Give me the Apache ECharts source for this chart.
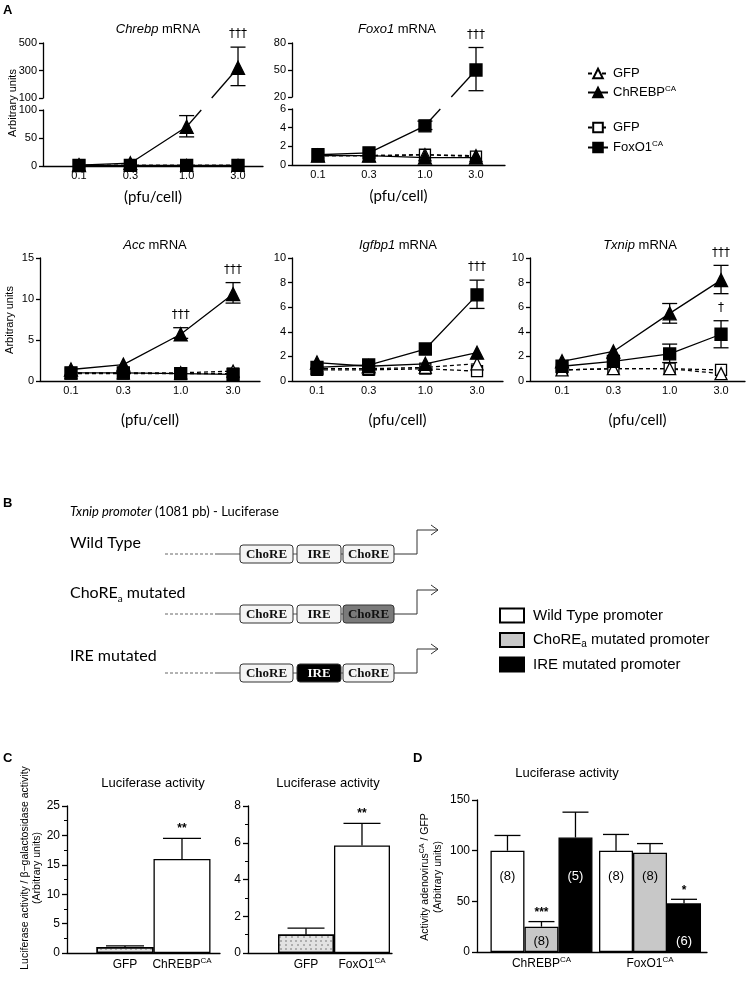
<!DOCTYPE html>
<html><head><meta charset="utf-8">
<script src="https://cdn.jsdelivr.net/npm/echarts@6/dist/echarts.min.js"></script>
<style>html,body{margin:0;padding:0;background:#fff}#c{width:747px;height:984px}</style>
</head><body><div id="c"></div><script>
// ---------------- Panel A data ----------------
const doses = [0.1, 0.3, 1.0, 3.0];
const doseLabels = ['0.1', '0.3', '1.0', '3.0'];

const chrebpGfpTri = [1.0, 1.0, 1.0, 1.0];
const chrebpChrebp = [1.5, 5.0, 70, 320];
const chrebpChrebpLo = [null, null, 52, 190];
const chrebpChrebpHi = [null, null, 90, 470];
const chrebpChrebpSig = ['', '', '', '†††'];
const chrebpGfpSq = [1.0, 1.0, 1.0, 1.0];
const chrebpFoxo1 = [1.0, 1.0, 1.0, 1.0];
const chrebpTicksUpper = [100, 300, 500];
const chrebpTicksLower = [0, 50, 100];

const foxo1GfpTri = [1.0, 1.0, 1.1, 1.0];
const foxo1Chrebp = [1.0, 1.0, 0.8, 0.8];
const foxo1GfpSq = [1.0, 1.0, 1.1, 0.9];
const foxo1Foxo1 = [1.1, 1.3, 4.2, 50];
const foxo1Foxo1Lo = [null, null, 3.8, 27];
const foxo1Foxo1Hi = [null, null, 4.7, 75];
const foxo1Foxo1Sig = ['', '', '', '†††'];
const foxo1TicksUpper = [20, 50, 80];
const foxo1TicksLower = [0, 2, 4, 6];

const accGfpTri = [1.0, 1.0, 1.0, 1.2];
const accChrebp = [1.4, 2.0, 5.7, 10.6];
const accChrebpLo = [null, null, 5.2, 9.5];
const accChrebpHi = [null, null, 6.5, 12.0];
const accChrebpSig = ['', '', '†††', '†††'];
const accGfpSq = [0.9, 0.9, 0.9, 0.9];
const accFoxo1 = [1.0, 1.0, 0.9, 0.8];
const accTicks = [0, 5, 10, 15];

const igfbp1GfpTri = [1.0, 1.0, 1.1, 1.4];
const igfbp1Chrebp = [1.5, 1.2, 1.4, 2.3];
const igfbp1GfpSq = [0.9, 0.9, 1.0, 0.8];
const igfbp1Foxo1 = [1.1, 1.3, 2.6, 7.0];
const igfbp1Foxo1Lo = [null, null, null, 5.9];
const igfbp1Foxo1Hi = [null, null, null, 8.2];
const igfbp1Foxo1Sig = ['', '', '', '†††'];
const igfbp1Ticks = [0, 2, 4, 6, 8, 10];

const txnipGfpTri = [0.9, 1.0, 1.0, 0.6];
const txnipChrebp = [1.6, 2.4, 5.5, 8.2];
const txnipChrebpLo = [null, null, 4.7, 7.1];
const txnipChrebpHi = [null, null, 6.3, 9.4];
const txnipChrebpSig = ['', '', '', '†††'];
const txnipGfpSq = [0.9, 1.0, 1.0, 0.9];
const txnipFoxo1 = [1.2, 1.6, 2.2, 3.8];
const txnipFoxo1Lo = [null, null, 1.5, 2.7];
const txnipFoxo1Hi = [null, null, 3.0, 4.9];
const txnipFoxo1Sig = ['', '', '', '†'];
const txnipTicks = [0, 2, 4, 6, 8, 10];

// ---------------- Panel C data ----------------
const cChrebpGroups = ['GFP', 'ChREBP'];
const cChrebpVals = [1.0, 16.0];
const cChrebpErr = [1.2, 19.5];
const cChrebpSig = ['', '**'];
const cChrebpTicks = [0, 5, 10, 15, 20, 25];
const cFoxo1Groups = ['GFP', 'FoxO1'];
const cFoxo1Vals = [1.0, 5.85];
const cFoxo1Err = [1.35, 7.05];
const cFoxo1Sig = ['', '**'];
const cFoxo1Ticks = [0, 2, 4, 6, 8];

// ---------------- Panel D data ----------------
const dGroups = ['ChREBP', 'FoxO1'];
const dWildType = [100, 100];
const dWildTypeErr = [115, 116];
const dWildTypeN = ['(8)', '(8)'];
const dChoreA = [25, 98];
const dChoreAErr = [30, 107];
const dChoreAN = ['(8)', '(8)'];
const dChoreASig = ['***', ''];
const dIre = [113, 48];
const dIreErr = [138, 52];
const dIreN = ['(5)', '(6)'];
const dIreSig = ['', '*'];
const dTicks = [0, 50, 100, 150];

// ---------------- build ----------------
const BLACK = '#000';
const SANS = '"Liberation Sans", Arial, sans-serif';
const CAL = 'Lato, "Open Sans", sans-serif';
const SERIF = '"Liberation Serif", serif';
const grids = [], xAxes = [], yAxes = [], series = [], graphics = [];

function addGrid(left, top, width, height) {
  grids.push({left, top, width, height, containLabel: false, outerBoundsMode: 'none', show: false});
  return grids.length - 1;
}
function nearestIdx(arr, v) {
  let b = 0; arr.forEach((a, i) => { if (Math.abs(a - v) < Math.abs(arr[b] - v)) b = i; }); return b;
}
const axLine = {show: true, onZero: false, lineStyle: {color: BLACK, width: 1.3}};

const STY = {
  GFPt: {symbol: 'triangle', size: 12, fill: '#fff', dashed: true, z: 3},
  GFPs: {symbol: 'rect', size: 11, fill: '#fff', dashed: true, z: 3},
  ChREBP: {symbol: 'triangle', size: 13, fill: '#000', dashed: false, z: 4},
  FoxO1: {symbol: 'rect', size: 12, fill: '#000', dashed: false, z: 4}
};
function lineSeries(name, xi, yi, vals, keep) {
  const st = STY[name];
  const data = [];
  doses.forEach((d, i) => { if (!keep || keep(vals[i])) data.push([d, vals[i]]); });
  return {
    type: 'line', name, xAxisIndex: xi, yAxisIndex: yi, data,
    symbol: st.symbol, symbolSize: st.size, showAllSymbol: true,
    itemStyle: {color: st.fill, borderColor: BLACK, borderWidth: 1.3},
    lineStyle: {color: BLACK, width: 1.3, type: st.dashed ? [4, 3] : 'solid'},
    clip: true, z: st.z, silent: true, emphasis: {disabled: true}
  };
}
function errSeries(xi, yi, lo, hi, sig, cap) {
  return {
    type: 'custom', xAxisIndex: xi, yAxisIndex: yi, z: 2, silent: true,
    data: doses.map((d, i) => [d, lo[i], hi[i], i]).filter(r => r[1] != null),
    renderItem: (params, api) => {
      const cs = params.coordSys;
      const x = api.value(0), idx = api.value(3);
      const pl = api.coord([x, api.value(1)]), ph = api.coord([x, api.value(2)]);
      const inside = y => y >= cs.y - 0.5 && y <= cs.y + cs.height + 0.5;
      if (!inside(pl[1]) || !inside(ph[1])) return null;
      const s = {stroke: BLACK, lineWidth: 1.3};
      const ch = [
        {type: 'line', shape: {x1: pl[0], y1: pl[1], x2: ph[0], y2: ph[1]}, style: s},
        {type: 'line', shape: {x1: pl[0] - cap / 2, y1: pl[1], x2: pl[0] + cap / 2, y2: pl[1]}, style: s},
        {type: 'line', shape: {x1: ph[0] - cap / 2, y1: ph[1], x2: ph[0] + cap / 2, y2: ph[1]}, style: s}
      ];
      if (sig[idx]) ch.push({type: 'text', style: {text: sig[idx], x: ph[0], y: ph[1] - 13, align: 'center', verticalAlign: 'middle', textAlign: 'center', textVerticalAlign: 'middle', fontSize: 12, fontFamily: '"DejaVu Sans", sans-serif', fill: BLACK}});
      return {type: 'group', children: ch};
    }
  };
}

const A = [
  {title: 'Chrebp', cx: 158, ty: 29, left: 43, width: 220, xmin: 0.0463, xmax: 5.12, nameGap: 24,
   parts: [{top: 43, height: 55, min: 100, max: 500, ticks: chrebpTicksUpper, only: 'ChREBP'},
           {top: 110, height: 56, min: 0, max: 100, ticks: chrebpTicksLower}],
   vals: {GFPs: chrebpGfpSq, GFPt: chrebpGfpTri, ChREBP: chrebpChrebp, FoxO1: chrebpFoxo1},
   errs: [[chrebpChrebpLo, chrebpChrebpHi, chrebpChrebpSig]]},
  {title: 'Foxo1', cx: 397, ty: 29, left: 292, width: 213, xmin: 0.0572, xmax: 5.6, nameGap: 24,
   parts: [{top: 43, height: 54, min: 20, max: 80, ticks: foxo1TicksUpper, only: 'FoxO1'},
           {top: 109, height: 56, min: 0, max: 6, ticks: foxo1TicksLower}],
   vals: {GFPs: foxo1GfpSq, GFPt: foxo1GfpTri, ChREBP: foxo1Chrebp, FoxO1: foxo1Foxo1},
   errs: [[foxo1Foxo1Lo, foxo1Foxo1Hi, foxo1Foxo1Sig]]},
  {title: 'Acc', cx: 155, ty: 245, left: 40, width: 220, xmin: 0.0522, xmax: 5.28, nameGap: 32,
   parts: [{top: 258, height: 123, min: 0, max: 15, ticks: accTicks}],
   vals: {GFPs: accGfpSq, GFPt: accGfpTri, ChREBP: accChrebp, FoxO1: accFoxo1},
   errs: [[accChrebpLo, accChrebpHi, accChrebpSig]]},
  {title: 'Igfbp1', cx: 398, ty: 245, left: 292, width: 211, xmin: 0.0588, xmax: 5.21, nameGap: 32,
   parts: [{top: 258, height: 123, min: 0, max: 10, ticks: igfbp1Ticks}],
   vals: {GFPs: igfbp1GfpSq, GFPt: igfbp1GfpTri, ChREBP: igfbp1Chrebp, FoxO1: igfbp1Foxo1},
   errs: [[igfbp1Foxo1Lo, igfbp1Foxo1Hi, igfbp1Foxo1Sig]]},
  {title: 'Txnip', cx: 640, ty: 245, left: 530, width: 215, xmin: 0.0504, xmax: 5.01, nameGap: 32,
   parts: [{top: 258, height: 123, min: 0, max: 10, ticks: txnipTicks}],
   vals: {GFPs: txnipGfpSq, GFPt: txnipGfpTri, ChREBP: txnipChrebp, FoxO1: txnipFoxo1},
   errs: [[txnipChrebpLo, txnipChrebpHi, txnipChrebpSig], [txnipFoxo1Lo, txnipFoxo1Hi, txnipFoxo1Sig]]}
];

A.forEach(c => {
  const broken = c.parts.length > 1;
  c.parts.forEach((p, pi) => {
    const last = pi === c.parts.length - 1;
    const gi = addGrid(c.left, p.top, c.width, p.height);
    p.gi = gi;
    xAxes.push({
      gridIndex: gi, type: 'log', logBase: 10, min: c.xmin, max: c.xmax, show: last,
      axisLine: axLine, axisTick: {show: false}, splitLine: {show: false}, minorTick: {show: false}, minorSplitLine: {show: false},
      axisLabel: {customValues: doses, formatter: v => doseLabels[nearestIdx(doses, v)], color: BLACK, fontSize: 11, fontFamily: SANS, margin: 4},
      name: '(pfu/cell)', nameLocation: 'middle', nameGap: c.nameGap,
      nameTextStyle: {fontFamily: CAL, fontSize: 15, color: BLACK}
    });
    const xi = xAxes.length - 1;
    yAxes.push({
      gridIndex: gi, type: 'value', min: p.min, max: p.max,
      axisLine: axLine, splitLine: {show: false},
      axisTick: {show: true, length: 4, customValues: p.ticks, lineStyle: {color: BLACK, width: 1.3}},
      axisLabel: {customValues: p.ticks, color: BLACK, fontSize: 11, fontFamily: SANS, margin: 6}
    });
    const yi = yAxes.length - 1;
    ['GFPs', 'GFPt', 'ChREBP', 'FoxO1'].forEach(n => {
      if (p.only && p.only !== n) return;
      let keep = null;
      if (broken) keep = p.only ? (v => v >= p.min) : (v => v <= p.max);
      series.push(lineSeries(n, xi, yi, c.vals[n], keep));
    });
    c.errs.forEach(e => series.push(errSeries(xi, yi, e[0], e[1], e[2], 15)));
  });
  graphics.push({type: 'text', x: c.cx, y: c.ty, style: {text: '{i|' + c.title + '} mRNA', fontSize: 13, fontFamily: SANS, fill: BLACK,
    align: 'center', verticalAlign: 'middle', textAlign: 'center', textVerticalAlign: 'middle',
    rich: {i: {fontStyle: 'italic', fontSize: 13, fontFamily: SANS}}}});
});

// ---------- Panel C & D bar helpers ----------
const supLabel = n => n === 'GFP' ? 'GFP' : n + '{sup|CA}';
const richSup = {sup: {fontSize: 8, verticalAlign: 'top', fontFamily: SANS, lineHeight: 15}};
function barX(gi, min, max, groups, margin) {
  xAxes.push({gridIndex: gi, type: 'value', min, max, axisLine: axLine, axisTick: {show: false}, splitLine: {show: false},
    axisLabel: {customValues: groups.map((g, i) => i), formatter: v => supLabel(groups[Math.round(v)]), color: BLACK,
      fontSize: 12, fontFamily: SANS, margin, lineHeight: 15, rich: richSup}});
  return xAxes.length - 1;
}
function barY(gi, min, max, ticks, minor) {
  yAxes.push({gridIndex: gi, type: 'value', min, max, axisLine: axLine, splitLine: {show: false},
    axisTick: {show: true, length: 5, customValues: ticks, lineStyle: {color: BLACK, width: 1.3}},
    minorTick: {show: !!minor, splitNumber: 2, length: 3, lineStyle: {color: BLACK, width: 1}},
    axisLabel: {customValues: ticks, color: BLACK, fontSize: 12, fontFamily: SANS, margin: 7}});
  return yAxes.length - 1;
}
function barErr(xi, yi, vals, errs, sigs, cap, offsetPx, sigGap) {
  return {type: 'custom', xAxisIndex: xi, yAxisIndex: yi, z: 5, silent: true,
    data: vals.map((v, i) => [i, v, errs[i]]),
    renderItem: (params, api) => {
      const i = api.value(0);
      const p0 = api.coord([i, api.value(1)]), p1 = api.coord([i, api.value(2)]);
      const x = p0[0] + offsetPx;
      const s = {stroke: BLACK, lineWidth: 1.3};
      const ch = [
        {type: 'line', shape: {x1: x, y1: p0[1], x2: x, y2: p1[1]}, style: s},
        {type: 'line', shape: {x1: x - cap / 2, y1: p1[1], x2: x + cap / 2, y2: p1[1]}, style: s}
      ];
      const sg = sigs && sigs[params.dataIndex];
      if (sg) ch.push({type: 'text', style: {text: sg, x, y: p1[1] - sigGap, align: 'center', verticalAlign: 'bottom',
        textAlign: 'center', textVerticalAlign: 'bottom', fontSize: 12, fontWeight: 'bold', fontFamily: SANS, fill: BLACK}});
      return {type: 'group', children: ch};
    }};
}
const dotted = {color: '#e2e2e2', borderColor: BLACK, borderWidth: 1.3,
  decal: {symbol: 'circle', symbolSize: 0.7, color: '#555', dashArrayX: [[2, 3], [0, 2.5, 2, 0.5]], dashArrayY: [2, 1.5], rotation: 0}};
const plainWhite = {color: '#fff', borderColor: BLACK, borderWidth: 1.3};

// C1
{
  const gi = addGrid(67, 806, 153, 147);
  const xi = barX(gi, -1.018, 1.667, cChrebpGroups, 4);
  const yi = barY(gi, 0, 25, cChrebpTicks, true);
  series.push({type: 'bar', xAxisIndex: xi, yAxisIndex: yi, barWidth: 57, silent: true,
    data: cChrebpVals.map((v, i) => ({value: [i, v], itemStyle: cChrebpGroups[i] === 'GFP' ? dotted : plainWhite})), z: 2});
  series.push(barErr(xi, yi, cChrebpVals, cChrebpErr, cChrebpSig, 38, 0, 4));
}
// C2
{
  const gi = addGrid(248, 806, 144, 147);
  const xi = barX(gi, -1.036, 1.536, cFoxo1Groups, 4);
  const yi = barY(gi, 0, 8, cFoxo1Ticks, true);
  series.push({type: 'bar', xAxisIndex: xi, yAxisIndex: yi, barWidth: 56, silent: true,
    data: cFoxo1Vals.map((v, i) => ({value: [i, v], itemStyle: cFoxo1Groups[i] === 'GFP' ? dotted : plainWhite})), z: 2});
  series.push(barErr(xi, yi, cFoxo1Vals, cFoxo1Err, cFoxo1Sig, 37, 0, 4));
}
// D
{
  const gi = addGrid(477, 800, 230, 152);
  const xi = barX(gi, -0.594, 1.525, dGroups, 4);
  const yi = barY(gi, 0, 150, dTicks, false);
  const defs = [
    {name: 'wt', vals: dWildType, err: dWildTypeErr, n: dWildTypeN, sig: null, color: '#fff', lab: BLACK},
    {name: 'chorea', vals: dChoreA, err: dChoreAErr, n: dChoreAN, sig: dChoreASig, color: '#c8c8c8', lab: BLACK},
    {name: 'ire', vals: dIre, err: dIreErr, n: dIreN, sig: dIreSig, color: '#000', lab: '#fff'}
  ];
  defs.forEach((d, k) => {
    series.push({type: 'bar', name: d.name, xAxisIndex: xi, yAxisIndex: yi, barWidth: 34, barGap: '0%', silent: true,
      data: d.vals.map((v, i) => ({value: [i, v], label: {distance: v > 60 ? 69 : 4}})),
      itemStyle: {color: d.color, borderColor: BLACK, borderWidth: 1.3},
      label: {show: true, position: 'insideBottom', formatter: p => d.n[p.dataIndex], fontSize: 13, fontFamily: SANS, color: d.lab},
      z: 2});
    series.push(barErr(xi, yi, d.vals, d.err, d.sig, 26, (k - 1) * 34, 3));
  });
}

// ---------- legends ----------
const lgNames = {GFPt: 'GFP', GFPs: 'GFP', ChREBP: 'ChREBP{sup|CA}', FoxO1: 'FoxO1{sup|CA}',
  wt: 'Wild Type promoter', chorea: 'ChoRE{sub|a} mutated promoter', ire: 'IRE mutated promoter'};
const lgText = {color: BLACK, fontSize: 13, fontFamily: SANS, lineHeight: 15,
  rich: {sup: {fontSize: 8, verticalAlign: 'top', lineHeight: 15, fontFamily: SANS}, sub: {fontSize: 10, verticalAlign: 'bottom', lineHeight: 18, fontFamily: SANS}}};
const legends = [
  {left: 587, top: 66, orient: 'vertical', padding: 0, itemWidth: 20, itemHeight: 12, itemGap: 4, selectedMode: false,
   data: ['GFPt', 'ChREBP'], formatter: n => lgNames[n], textStyle: lgText},
  {left: 587, top: 120, orient: 'vertical', padding: 0, itemWidth: 20, itemHeight: 12, itemGap: 5, selectedMode: false,
   data: ['GFPs', 'FoxO1'], formatter: n => lgNames[n], textStyle: lgText},
  {left: 499, top: 607, orient: 'vertical', padding: 0, itemWidth: 24, itemHeight: 14, itemGap: 7, icon: 'rect', selectedMode: false,
   data: ['wt', 'chorea', 'ire'], formatter: n => lgNames[n],
   textStyle: Object.assign({}, lgText, {fontSize: 15, lineHeight: 17, padding: [0, 0, 0, 4]})}
];

// ---------- static text / diagram ----------
function txt(text, x, y, o) {
  graphics.push({type: 'text', x, y, rotation: (o && o.rot) || 0, style: Object.assign({text, fill: BLACK, fontFamily: SANS, fontSize: 12,
    align: 'left', verticalAlign: 'middle', textAlign: 'left', textVerticalAlign: 'middle'}, o && o.style)});
}
txt('A', 3, 10, {style: {fontWeight: 'bold', fontSize: 13}});
txt('B', 3, 503, {style: {fontWeight: 'bold', fontSize: 13}});
txt('C', 3, 758, {style: {fontWeight: 'bold', fontSize: 13}});
txt('D', 413, 758, {style: {fontWeight: 'bold', fontSize: 13}});
const mid = {align: 'center', textAlign: 'center', verticalAlign: 'middle', textVerticalAlign: 'middle'};
txt('Arbitrary units', 13, 103, {rot: Math.PI / 2, style: Object.assign({fontSize: 11}, mid)});
txt('Arbitrary units', 10, 320, {rot: Math.PI / 2, style: Object.assign({fontSize: 11}, mid)});
txt('Luciferase activity', 153, 783, {style: Object.assign({fontSize: 13}, mid)});
txt('Luciferase activity', 328, 783, {style: Object.assign({fontSize: 13}, mid)});
txt('Luciferase activity', 567, 773, {style: Object.assign({fontSize: 13}, mid)});
txt('Luciferase activity / β−galactosidase activity\n(Arbitrary units)', 31, 868,
  {rot: Math.PI / 2, style: Object.assign({fontSize: 10.5, lineHeight: 12}, mid)});
txt('Activity adenovirus{sup|CA} / GFP\n(Arbitrary units)', 432, 877,
  {rot: Math.PI / 2, style: Object.assign({fontSize: 10.5, lineHeight: 13, rich: {sup: {fontSize: 7, verticalAlign: 'top', lineHeight: 13, fontFamily: SANS}}}, mid)});

// Panel B diagram
txt('{i|Txnip promoter} (1081 pb) - Luciferase', 70, 512, {style: {fontFamily: CAL, fontSize: 13, rich: {i: {fontStyle: 'italic', fontFamily: CAL, fontSize: 13}}}});
const bRows = [
  {label: 'Wild Type', ly: 543, y: 554, fills: ['#f4f4f4', '#f4f4f4', '#f4f4f4']},
  {label: 'ChoRE{sub|a} mutated', ly: 593, y: 614, fills: ['#f4f4f4', '#f4f4f4', '#7a7a7a']},
  {label: 'IRE mutated', ly: 656, y: 673, fills: ['#f4f4f4', '#000', '#f4f4f4']}
];
const boxes = [{x: 240, w: 53, t: 'ChoRE'}, {x: 297, w: 44, t: 'IRE'}, {x: 343, w: 51, t: 'ChoRE'}];
bRows.forEach(r => {
  txt(r.label, 70, r.ly, {style: {fontFamily: CAL, fontSize: 16, lineHeight: 19, rich: {sub: {fontFamily: CAL, fontSize: 10, verticalAlign: 'bottom', lineHeight: 21}}}});
  const y = r.y;
  graphics.push({type: 'line', shape: {x1: 165, y1: y, x2: 215, y2: y}, style: {stroke: '#666', lineWidth: 1, lineDash: [3, 2]}});
  graphics.push({type: 'line', shape: {x1: 215, y1: y, x2: 240, y2: y}, style: {stroke: '#555', lineWidth: 1}});
  graphics.push({type: 'line', shape: {x1: 293, y1: y, x2: 297, y2: y}, style: {stroke: '#555', lineWidth: 1}});
  graphics.push({type: 'line', shape: {x1: 341, y1: y, x2: 343, y2: y}, style: {stroke: '#555', lineWidth: 1}});
  boxes.forEach((b, k) => {
    graphics.push({type: 'rect', shape: {x: b.x, y: y - 9, width: b.w, height: 18, r: 3}, style: {fill: r.fills[k], stroke: '#333', lineWidth: 1}});
    txt(b.t, b.x + b.w / 2, y + 0.5, {style: Object.assign({fontFamily: SERIF, fontWeight: 'bold', fontSize: 13, fill: r.fills[k] === '#000' ? '#fff' : '#111'}, mid)});
  });
  graphics.push({type: 'polyline', shape: {points: [[394, y], [417, y], [417, y - 24], [438, y - 24]]}, style: {stroke: '#333', lineWidth: 1, fill: null}});
  graphics.push({type: 'polyline', shape: {points: [[431, y - 29], [438, y - 24], [431, y - 19]]}, style: {stroke: '#333', lineWidth: 1, fill: null}});
});

const chart = echarts.init(document.getElementById('c'), null, {renderer: 'canvas'});
chart.setOption({
  animation: false, backgroundColor: '#fff',
  textStyle: {fontFamily: SANS, color: BLACK},
  grid: grids, xAxis: xAxes, yAxis: yAxes, series, legend: legends, graphic: graphics
});

// Segments that cross an axis break: drawn in screen space between the two grids' scales, with a gap at the break.
const bridges = [];
A.forEach(c => {
  if (c.parts.length < 2) return;
  const up = c.parts[0], lo = c.parts[1];
  const v = c.vals[up.only];
  for (let i = 0; i < doses.length - 1; i++) {
    if (v[i] <= lo.max && v[i + 1] > lo.max) {
      const pA = chart.convertToPixel({gridIndex: lo.gi}, [doses[i], v[i]]);
      const pB = chart.convertToPixel({gridIndex: up.gi}, [doses[i + 1], v[i + 1]]);
      const yTop = chart.convertToPixel({gridIndex: lo.gi}, [doses[i], lo.max])[1];
      const yBot = chart.convertToPixel({gridIndex: up.gi}, [doses[i], up.min])[1];
      const xAt = y => pA[0] + (pB[0] - pA[0]) * (y - pA[1]) / (pB[1] - pA[1]);
      bridges.push({type: 'line', z: 1, shape: {x1: pA[0], y1: pA[1], x2: xAt(yTop), y2: yTop}, style: {stroke: BLACK, lineWidth: 1.3}});
      bridges.push({type: 'line', z: 1, shape: {x1: xAt(yBot), y1: yBot, x2: pB[0], y2: pB[1]}, style: {stroke: BLACK, lineWidth: 1.3}});
    }
  }
});
chart.setOption({graphic: graphics.concat(bridges)});
</script></body></html>
